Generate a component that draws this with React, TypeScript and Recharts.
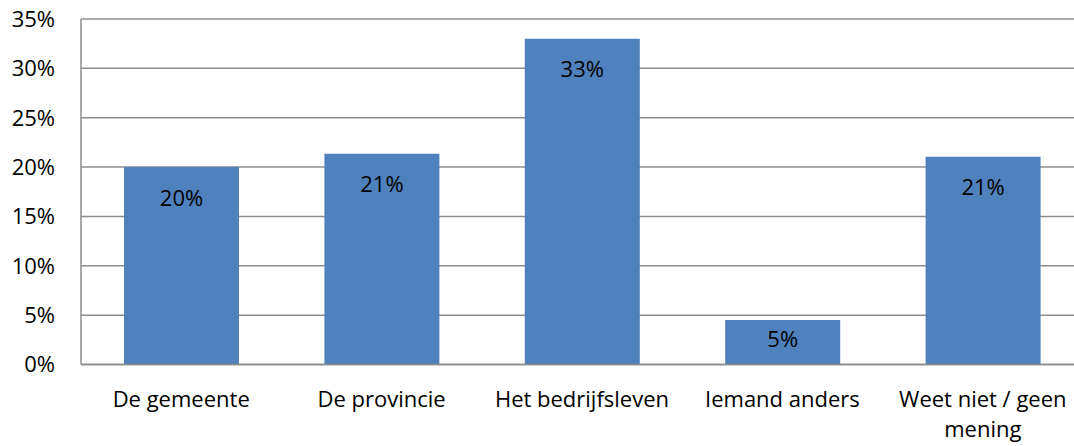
import { Bar, BarChart, CartesianGrid, LabelList, XAxis, YAxis } from "recharts";

const categories = ["De gemeente", "De provincie", "Het bedrijfsleven", "Iemand anders", "Weet niet / geen mening"];
const shares = [20.0, 21.35, 33.0, 4.5, 21.05];
const yTicks = [0, 5, 10, 15, 20, 25, 30, 35];

const data = categories.map((name, i) => ({ name, value: shares[i] }));

const FONT = "'Open Sans', 'Noto Sans', sans-serif";

// greedy word wrap on character count, like Excel does for long category names
function wrap(label: string, max = 18) {
  const lines: string[] = [];
  let cur = "";
  for (const w of label.split(" ")) {
    const next = cur ? cur + " " + w : w;
    if (next.length > max && cur) {
      lines.push(cur);
      cur = w;
    } else {
      cur = next;
    }
  }
  if (cur) lines.push(cur);
  return lines;
}

function CategoryTick(props: any) {
  const { x, y, payload } = props;
  const lines = wrap(String(payload.value));
  return (
    <text x={x} y={y} textAnchor="middle" fontSize={22} fontFamily={FONT} fill="#000">
      {lines.map((line, i) => (
        <tspan key={i} x={x} dy={i === 0 ? "0.71em" : 30}>
          {line}
        </tspan>
      ))}
    </text>
  );
}

function BarValue(props: any) {
  const { x, y, width, height, value } = props;
  // inside end, pulled toward the middle for short bars
  const cy = y + Math.min(31, height / 2 - 3);
  return (
    <text
      x={x + width / 2}
      y={cy}
      dy="0.35em"
      textAnchor="middle"
      fontSize={22}
      fontFamily={FONT}
      fill="#000"
    >
      {Math.round(value)}%
    </text>
  );
}

export default function App() {
  return (
    <div
      style={{
        position: "fixed",
        left: 0,
        top: 0,
        width: 1074,
        height: 446,
        overflow: "hidden",
        background: "#fff",
      }}
    >
      <BarChart
        width={1100}
        height={446}
        data={data}
        margin={{ top: 19, right: 17, left: 0, bottom: 0 }}
      >
        <CartesianGrid vertical={false} stroke="#8c8c8c" strokeWidth={1.5} />
        <XAxis
          dataKey="name"
          height={81.5}
          interval={0}
          tickLine={false}
          axisLine={{ stroke: "#8c8c8c", strokeWidth: 1.5 }}
          tickMargin={21}
          tick={<CategoryTick />}
        />
        <YAxis
          width={81}
          domain={[0, 35]}
          ticks={yTicks}
          tickLine={false}
          tickMargin={20}
          axisLine={{ stroke: "#8c8c8c", strokeWidth: 1.5 }}
          tickFormatter={(v) => `${v}%`}
          tick={{ fontSize: 22, fontFamily: FONT, fill: "#000" }}
        />
        <Bar dataKey="value" fill="#4F81BD" barSize={115} isAnimationActive={false}>
          <LabelList dataKey="value" content={<BarValue />} />
        </Bar>
      </BarChart>
    </div>
  );
}
